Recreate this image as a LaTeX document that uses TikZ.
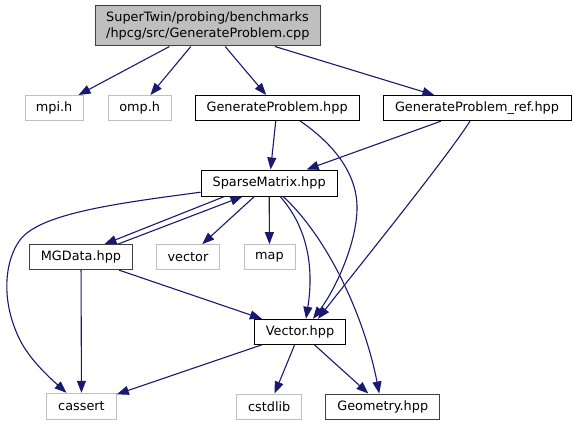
\documentclass[tikz,border=0pt]{standalone}
\usepackage{fontspec}
\setmainfont{DejaVu Sans}
\usetikzlibrary{arrows.meta,calc}
\definecolor{edgeblue}{HTML}{191970}
\definecolor{extgray}{HTML}{BFBFBF}
\definecolor{topfill}{HTML}{BFBFBF}
\definecolor{darkbord}{HTML}{404040}
\begin{document}
\begin{tikzpicture}[x=1pt,y=-1pt,
  every node/.style={font=\fontsize{12.85}{16}\selectfont, inner sep=0pt, minimum height=25pt},
  docbox/.style={draw=black, fill=white, line width=1pt},
  graybox/.style={draw=darkbord, fill=white, line width=1pt},
  extbox/.style={draw=extgray, fill=white, line width=1pt},
  mainbox/.style={draw=darkbord, fill=topfill, line width=1pt, align=left},
  edge/.style={draw=edgeblue, line width=1.1pt, -{Triangle[length=12pt,width=9pt]}}]
\useasboundingbox (0,0) rectangle (577,425);
\fill[white] (0,0) rectangle (577,425);
% nodes
\node[mainbox, minimum width=225.7pt, minimum height=40pt] (top) at (207.85,26) {SuperTwin/probing/benchmarks\\/hpcg/src/GenerateProblem.cpp};
\node[extbox, minimum width=58.3pt] (mpi) at (54.15,108) {mpi.h};
\node[extbox, minimum width=62.7pt] (omp) at (139.65,108) {omp.h};
\node[docbox, minimum width=164.3pt] (gphpp) at (277.15,108) {GenerateProblem.hpp};
\node[docbox, minimum width=188pt] (gpref) at (477,108.2) {GenerateProblem\_ref.hpp};
\node[docbox, minimum width=136.3pt, minimum height=26pt] (sparse) at (269.15,183) {SparseMatrix.hpp};
\node[graybox, minimum width=103.4pt] (mgdata) at (81,257.15) {MGData.hpp};
\node[extbox, minimum width=62.6pt] (vector) at (188,257.15) {vector};
\node[extbox, minimum width=51pt] (map) at (269.5,257.15) {map};
\node[docbox, minimum width=91.4pt] (vec) at (300,331.8) {Vector.hpp};
\node[extbox, minimum width=69.6pt, minimum height=26pt] (cassert) at (81.5,406.3) {cassert};
\node[extbox, minimum width=65pt] (cstdlib) at (269.2,406.5) {cstdlib};
\node[graybox, minimum width=114.1pt] (geom) at (382.75,406.5) {Geometry.hpp};
% edges
\draw[edge] (top) -- (mpi);
\draw[edge] (top) -- (omp);
\draw[edge] (top) -- (gphpp);
\draw[edge] (top) -- (gpref);
\draw[edge] (gphpp) -- (sparse);
\draw[edge] (gpref) -- (sparse);
\draw[edge] ($(gphpp.south)+(23,0)$) .. controls (335,145) and (358,175) .. (357,210)
  .. controls (356,245) and (335,290) .. ($(vec.north)+(13,0)$);
\draw[edge] ($(gpref.south)+(-7,0)$) .. controls (445,160) and (360,265) .. ($(vec.north)+(18,0)$);
\draw[edge] ($(sparse.south west)+(0,-4.3)$) .. controls (120,203) and (40,213) .. (20,240)
  .. controls (5,260) and (0,300) .. (20,340)
  .. controls (30,360) and (50,378) .. ($(cassert.north)+(-15,0)$);
\draw[edge] ($(sparse.south west)+(24,0)$) -- ($(mgdata.north west)+(75.7,0)$);
\draw[edge] ($(mgdata.north west)+(89,0)$) -- ($(sparse.south west)+(42,0)$);
\draw[edge] (sparse) -- (vector);
\draw[edge] (sparse) -- (map);
\draw[edge] ($(sparse.south)+(11,0)$) .. controls (308,228) and (314,268) .. ($(vec.north)+(6,0)$);
\draw[edge] ($(sparse.south)+(14,0)$) .. controls (330,240) and (365,320) .. ($(geom.north)+(-3.5,0)$);
\draw[edge] (mgdata) -- (cassert);
\draw[edge] (mgdata) -- (vec);
\draw[edge] (vec) -- (cassert);
\draw[edge] (vec) -- (cstdlib);
\draw[edge] (vec) -- (geom);
\end{tikzpicture}
\end{document}
